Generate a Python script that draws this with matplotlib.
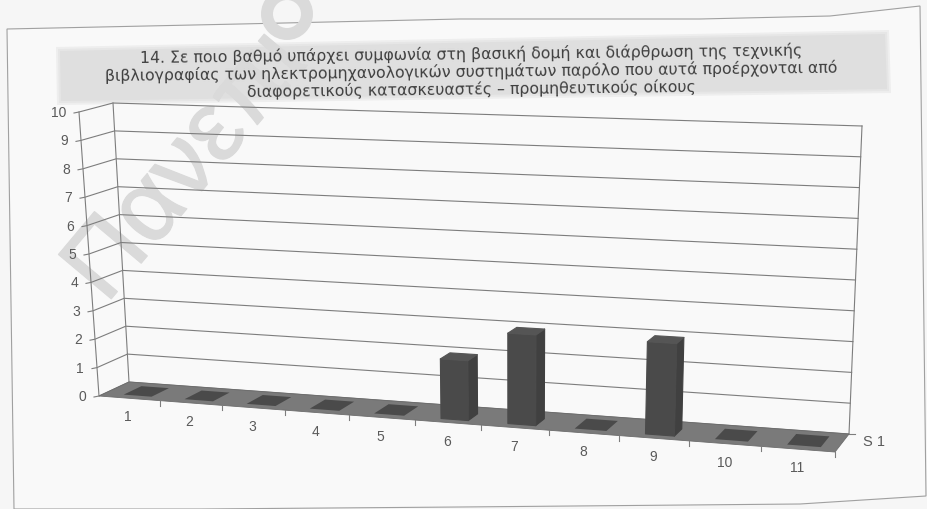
import matplotlib
matplotlib.use("Agg")
import matplotlib.pyplot as plt
from matplotlib.patches import Polygon, Ellipse
import matplotlib.patheffects as pe
import numpy as np

categories = ["1", "2", "3", "4", "5", "6", "7", "8", "9", "10", "11"]
values = [0, 0, 0, 0, 0, 2, 3, 0, 3, 0, 0]
y_ticks = [0, 1, 2, 3, 4, 5, 6, 7, 8, 9, 10]
series_name = "S 1"
title_lines = [
    "14. Σε ποιο βαθμό υπάρχει συμφωνία στη βασική δομή και διάρθρωση της τεχνικής",
    "βιβλιογραφίας των ηλεκτρομηχανολογικών συστημάτων παρόλο που αυτά προέρχονται από",
    "διαφορετικούς κατασκευαστές – προμηθευτικούς οίκους",
]
watermark = "Πανεπι"

# 3D box geometry in image pixels: floor corners and vertical span of 10 units
FL, FR = np.array([99., 397.]), np.array([835., 453.])
BL, BR = np.array([129., 383.]), np.array([849., 435.])
UFL, UFR = np.array([-20., -284.]), np.array([16., -318.])
UBL, UBR = np.array([-16., -279.]), np.array([13., -308.])
K = 1.11


def warp(x):
    t = x / len(categories)
    return t / (K + (1 - K) * t)


def proj(x, v, d):
    u = warp(x)
    base = (1 - d) * ((1 - u) * FL + u * FR) + d * ((1 - u) * BL + u * BR)
    up = (1 - d) * ((1 - u) * UFL + u * UFR) + d * ((1 - u) * UBL + u * UBR)
    return base + up * v / 10.0


fig = plt.figure(figsize=(9.27, 5.10), dpi=100, facecolor="#f6f6f6")
ax = fig.add_axes([0, 0, 1, 1])
ax.set_xlim(0, 927)
ax.set_ylim(510, 0)
ax.axis("off")

# paper frame
verts = [(7, 30), (240, 25), (460, 20), (700, 20), (830, 17), (920, 7),
         (923, 250), (926, 497), (800, 505), (460, 508), (200, 510), (14, 510)]
ax.add_patch(Polygon(verts, closed=True, fc="#f9f9f9", ec="#a0a0a0", lw=0.8, zorder=1))

# title band
for grow, col in [(4, "#eeeeee"), (2, "#e6e6e6"), (0, "#dfdfdf")]:
    ax.add_patch(Polygon([(60 - grow, 52 - grow), (885 + grow, 35 - grow),
                          (887 + grow, 90 + grow), (61 - grow, 102 + grow)],
                         closed=True, fc=col, ec="none", zorder=1.5))

# watermark
wm_col = "#dadada"
ax.text(106, 306, watermark, fontsize=72, color=wm_col, rotation=50, rotation_mode="anchor",
        ha="left", va="baseline", family="Liberation Sans", zorder=1.8,
        path_effects=[pe.withStroke(linewidth=1.0, foreground=wm_col)])
ax.add_patch(Ellipse((287, 15), 40, 40, fc="none", ec=wm_col, lw=8.6, zorder=1.8))

line_c = "#7d7d7d"
lw = 0.8
# gridlines
for v in y_ticks:
    a, b, c = proj(0, v, 0), proj(0, v, 1), proj(len(categories), v, 1)
    ax.plot([a[0] - 5, a[0], b[0], c[0]], [a[1] + 1, a[1], b[1], c[1]], color=line_c, lw=lw, zorder=2)
    ax.text(a[0] - 13, a[1], str(v), ha="right", va="center", fontsize=10, color="#5a5a5a",
            family="Liberation Sans", zorder=6)
n = len(categories)
for pts in ([proj(0, 0, 0), proj(0, 10, 0)], [proj(0, 0, 1), proj(0, 10, 1)], [proj(n, 0, 1), proj(n, 10, 1)]):
    ax.plot([p[0] for p in pts], [p[1] for p in pts], color=line_c, lw=lw, zorder=2)

# floor
ax.add_patch(Polygon([FL, FR, BR, BL], closed=True, fc="#7a7a7a", ec="#6c6c6c", lw=0.6, zorder=3))

# category ticks and labels
for i, cat in enumerate(categories):
    p = proj(i + 1, 0, 0)
    ax.plot([p[0], p[0]], [p[1], p[1] + 5], color=line_c, lw=lw, zorder=3)
    q = proj(i + 0.5, 0, 0)
    ax.text(q[0] - 1, q[1] + 18, cat, ha="center", va="center", fontsize=10, color="#5a5a5a",
            family="Liberation Sans", zorder=6)

# series label
ax.plot([BR[0], BR[0] + 6], [BR[1], BR[1]], color=line_c, lw=lw, zorder=3)
ax.text(BR[0] + 14, BR[1] + 7, series_name, ha="left", va="center", fontsize=10.5, color="#5a5a5a",
        family="Liberation Sans", zorder=6)

# bars
for i, val in enumerate(values):
    if val == 0:
        x0, x1, d0, d1 = 0.31, 0.77, 0.2, 0.8
        pts = [proj(i + x0, 0, d0), proj(i + x1, 0, d0), proj(i + x1, 0, d1), proj(i + x0, 0, d1)]
        ax.add_patch(Polygon(pts, closed=True, fc="#4a4a4a", ec="none", zorder=4))
        continue
    x0, x1, d0, d1 = 0.33, 0.74, 0.2, 0.62
    a = proj(i + x0, 0, d0); b = proj(i + x1, 0, d0)
    c = proj(i + x1, 0, d1)
    at = proj(i + x0, val, d0); bt = proj(i + x1, val, d0)
    ct = proj(i + x1, val, d1); et = proj(i + x0, val, d1)
    for pts, col, z in [([b, c, ct, bt], "#404040", 4), ([a, b, bt, at], "#4a4a4a", 4.1),
                        ([at, bt, ct, et], "#555555", 4.2)]:
        ax.add_patch(Polygon(pts, closed=True, fc=col, ec=col, lw=0.8, joinstyle="round", zorder=z))

# title
ax.text(471, 72, "\n".join(title_lines), ha="center", va="center", multialignment="center",
        fontsize=11.3, color="#404040", family="DejaVu Sans", rotation=0.65,
        rotation_mode="anchor", linespacing=1.12, zorder=6)

fig.savefig("out.png", dpi=100, facecolor=fig.get_facecolor())
